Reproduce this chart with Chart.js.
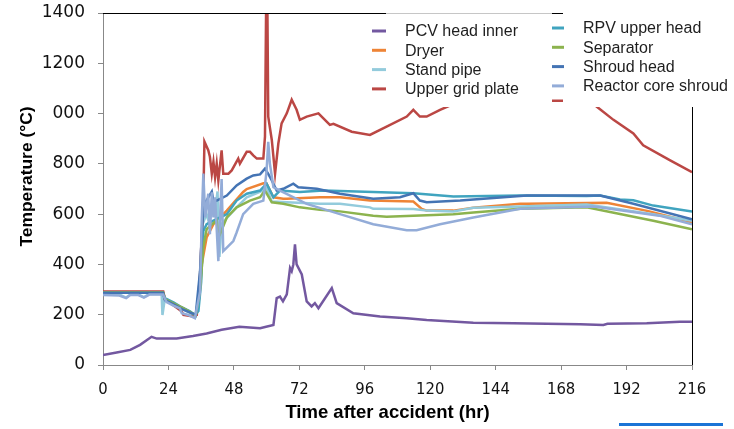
<!DOCTYPE html>
<html>
<head>
<meta charset="utf-8">
<script src="https://cdn.jsdelivr.net/npm/chart.js@4.4.1/dist/chart.umd.min.js"></script>
<style>
html,body{margin:0;padding:0;background:#fff;overflow:hidden}
#wrap{position:relative;width:734px;height:429px}
#bar{position:absolute;left:619px;top:423px;width:104px;height:3px;background:#1b74d6}
</style>
</head>
<body>
<div id="wrap"><canvas id="c" width="734" height="429"></canvas><div id="bar"></div></div>
<script>
// ---------- data ----------
const xTickValues = [0, 24, 48, 72, 96, 120, 144, 168, 192, 216];
const yTickLabels = ['0', '200', '400', '600', '800', '000', '1200', '1400'];
const xTitle = 'Time after accident (hr)';
const yTitle = 'Temperature (°C)';
const seriesNames = ['PCV head inner', 'Dryer', 'Stand pipe', 'Upper grid plate',
  'RPV upper head', 'Separator', 'Shroud head', 'Reactor core shroud'];
const seriesColors = ['#7358a0', '#ee8436', '#93cbdc', '#bb4744',
  '#40a4bf', '#8cb34e', '#4474b4', '#93acd8'];

const pcvT = [0, 5, 10, 13.6, 17.8, 19.7, 27, 33, 38, 43.5, 50, 57.6, 62.5, 63.7, 64.9, 66, 67.4, 68.6, 69.2, 69.8, 70.4, 71, 72.9, 74.7, 76.5, 77.7, 79, 83.9, 85.7, 91.8, 101.6, 111.4, 118.7, 135.8, 150.5, 175, 183.5, 185, 199.4, 211.6, 216];
const pcvV = [40, 50, 60, 80, 112, 105, 105, 115, 125, 140, 152, 146, 159, 266, 272, 253, 281, 386, 373, 400, 480, 400, 360, 253, 233, 246, 226, 306, 246, 206, 193, 186, 179, 168, 166, 162, 159, 164, 166, 172, 172];

const dryerT = [0, 22, 22.7, 26, 29, 32, 34, 35.2, 36.2, 38, 40.5, 45.4, 51.4, 52.7, 58.8, 60, 61.9, 62.5, 66.1, 67.4, 79.6, 86.9, 97.9, 113.8, 116.9, 118.7, 128.5, 135.8, 153, 155.4, 184.7, 200, 216];
const dryerV = [288, 288, 262, 244, 228, 210, 197, 260, 400, 507, 560, 614, 688, 700, 723, 721, 680, 667, 661, 661, 667, 667, 654, 650, 621, 614, 614, 625, 641, 641, 645, 612, 568];

const standT = [0, 6, 8.5, 10, 13, 15, 17, 21.5, 21.8, 22.6, 26, 29, 32, 34, 35.2, 36.5, 38, 39, 40, 41, 42, 42.7, 43.5, 45, 49, 52.7, 58.8, 60, 61.9, 67.4, 79.6, 86.9, 97.9, 99.1, 113.8, 118.7, 128.5, 135.8, 153, 177.4, 201.8, 216];
const standV = [282, 280, 268, 280, 280, 270, 282, 283, 199, 258, 240, 224, 206, 194, 280, 560, 600, 560, 640, 600, 690, 430, 560, 580, 627, 667, 694, 705, 650, 647, 641, 641, 627, 621, 620, 614, 611, 625, 630, 638, 600, 574];

const gridT = [0, 22.1, 22.7, 28.9, 29.5, 33.1, 34.4, 35.6, 36.8, 37.2, 38.6, 39.2, 39.9, 40.5, 41.1, 41.7, 42.3, 43.5, 44.1, 46, 47.2, 49.6, 50.2, 52.7, 53.9, 55.1, 56.4, 58.8, 59.4, 59.8, 60.3, 60.6, 61.9, 63.1, 64.3, 65.5, 67.4, 69.2, 71, 72.2, 74.7, 79, 83.2, 84.5, 91.2, 97.9, 104, 111.4, 113.8, 116.2, 118.7, 123.6, 130, 140, 150, 160, 170, 178, 181, 187.2, 194.5, 198.1, 208, 216];
const gridV = [292, 292, 262, 213, 199, 193, 199, 360, 667, 888, 854, 828, 761, 808, 747, 801, 734, 854, 761, 761, 774, 821, 801, 848, 848, 834, 821, 821, 908, 1400, 1400, 988, 895, 761, 881, 961, 1001, 1055, 1015, 975, 988, 1001, 955, 959, 928, 915, 948, 988, 1015, 988, 988, 1015, 1045, 1070, 1085, 1090, 1080, 1060, 1028, 975, 921, 874, 814, 767];

const rpvT = [0, 22, 22.7, 26, 28.2, 31.9, 33.7, 35, 36, 36.8, 38, 40.5, 45.4, 49, 52.7, 57.6, 60, 62.5, 64.9, 72.2, 80.8, 99.1, 113.8, 128.5, 153, 177.4, 182.3, 189.6, 194.5, 201.8, 216];
const rpvV = [288, 288, 266, 248, 233, 213, 199, 215, 330, 533, 560, 574, 600, 654, 681, 694, 721, 667, 694, 688, 694, 688, 683, 670, 674, 672, 674, 658, 655, 634, 610];

const sepT = [0, 22, 22.7, 26, 29, 32, 34, 35.6, 36.8, 38, 40, 41.7, 42.3, 42.9, 45.4, 49, 53.9, 57.6, 59.4, 61.9, 66.1, 72.2, 79.6, 86.9, 99.1, 104, 113.8, 128.5, 135.8, 153, 177.4, 201.8, 216];
const sepV = [289, 289, 262, 244, 228, 210, 197, 300, 470, 540, 560, 575, 507, 520, 587, 627, 654, 667, 694, 647, 641, 627, 617, 611, 594, 590, 594, 600, 607, 621, 627, 574, 540];

const shroudT = [0, 22, 22.7, 26, 29, 32, 34, 35.6, 36.8, 38, 39.9, 40.5, 41.7, 45.4, 49, 52.7, 55.1, 57.6, 59.4, 60.6, 61.9, 63.7, 66.1, 69.8, 71.6, 78.4, 86.9, 99.1, 108.9, 113.8, 116.2, 118.7, 131, 155.4, 182.3, 194.5, 216];
const shroudV = [287, 287, 258, 240, 222, 208, 200, 373, 640, 655, 690, 650, 654, 674, 714, 741, 754, 758, 781, 760, 734, 694, 701, 721, 707, 701, 681, 661, 667, 683, 654, 647, 654, 674, 674, 641, 580];

const coreT = [0, 6, 8.5, 10, 13, 15, 17, 22, 23.3, 26, 28.2, 28.9, 31, 33.7, 35.6, 36.2, 36.8, 37.5, 38.6, 39.2, 39.9, 40.5, 41.1, 42.3, 43.5, 44.1, 45.4, 47.8, 49, 51.4, 55.1, 58.8, 60, 60.6, 61.2, 62.5, 64.9, 74.7, 86.9, 99.1, 111.4, 115, 123.6, 135.8, 153, 180, 204, 216];
const coreV = [278, 276, 266, 278, 278, 268, 280, 280, 250, 235, 225, 206, 200, 186, 292, 574, 761, 587, 681, 520, 687, 587, 667, 413, 740, 453, 467, 493, 527, 600, 641, 654, 774, 888, 801, 707, 694, 641, 600, 560, 536, 536, 560, 587, 621, 630, 594, 560];

const seriesT = [pcvT, dryerT, standT, gridT, rpvT, sepT, shroudT, coreT];
const seriesV = [pcvV, dryerV, standV, gridV, rpvV, sepV, shroudV, coreV];

// ---------- chart ----------
const datasets = seriesNames.map((name, i) => ({
  label: name,
  data: seriesT[i].map((t, k) => ({x: t, y: seriesV[i][k]})),
  borderColor: seriesColors[i],
  backgroundColor: seriesColors[i],
  borderWidth: 2.5,
  pointRadius: 0,
  tension: 0,
  fill: false,
  order: seriesNames.length - i
}));

const overlay = {
  id: 'overlay',
  afterDraw(chart) {
    const ctx = chart.ctx, a = chart.chartArea;
    ctx.save();
    // plot frame (top/right)
    ctx.strokeStyle = '#000'; ctx.lineWidth = 1;
    ctx.beginPath();
    ctx.moveTo(a.left, a.top + 0.5); ctx.lineTo(a.right + 0.5, a.top + 0.5);
    ctx.lineTo(a.right + 0.5, a.bottom);
    ctx.stroke();
    // legend boxes
    ctx.fillStyle = '#fff';
    ctx.fillRect(358, a.top + 1, 205, 107 - (a.top + 1));
    ctx.fillRect(563, 0, 171, 107);
    ctx.fillRect(386, a.top - 1, 166, 3);
    ctx.strokeStyle = '#c6c6c6';
    ctx.beginPath(); ctx.moveTo(386, a.top + 0.5); ctx.lineTo(552, a.top + 0.5); ctx.stroke();
    // legend entries
    ctx.font = '16px "Liberation Sans", Arial, sans-serif';
    ctx.textBaseline = 'middle'; ctx.textAlign = 'left';
    const ds = chart.data.datasets;
    for (let i = 0; i < ds.length; i++) {
      const col = i < 4 ? 0 : 1, row = i % 4;
      const mx0 = col ? 552 : 372, mx1 = col ? 564 : 386;
      const tx = col ? 583 : 405;
      const y = (col ? 28 : 31) + row * 19.3;
      ctx.strokeStyle = ds[i].borderColor; ctx.lineWidth = 3;
      ctx.beginPath(); ctx.moveTo(mx0, y); ctx.lineTo(mx1, y); ctx.stroke();
      ctx.fillStyle = '#1e1e1e';
      ctx.fillText(ds[i].label, tx, y + 1);
    }
    // clipped marker of a further entry
    ctx.fillStyle = seriesColors[3];
    ctx.fillRect(552, 99.5, 11, 2.5);
    // axis titles
    ctx.fillStyle = '#000';
    ctx.textAlign = 'center'; ctx.textBaseline = 'middle';
    ctx.font = 'bold 18.5px "Liberation Sans", Arial, sans-serif';
    ctx.fillText(xTitle, 387.5, 413);
    ctx.save();
    ctx.translate(27, 176.5); ctx.rotate(-Math.PI / 2);
    ctx.font = 'bold 17.4px "Liberation Sans", Arial, sans-serif';
    ctx.fillText(yTitle, 0, 0);
    ctx.restore();
    ctx.restore();
  }
};

new Chart(document.getElementById('c'), {
  type: 'line',
  data: {datasets},
  options: {
    responsive: false,
    animation: false,
    devicePixelRatio: 1,
    layout: {padding: {top: 13, right: 42, left: 0, bottom: 0}},
    plugins: {legend: {display: false}, tooltip: {enabled: false}},
    scales: {
      x: {
        type: 'linear', min: 0, max: 216,
        afterFit: s => { s.height = 64; s.paddingTop = 0; s.paddingBottom = 0; },
        afterBuildTicks: s => { s.ticks = xTickValues.map(v => ({value: v})); },
        grid: {drawOnChartArea: false, drawTicks: true, tickLength: 5, color: '#888'},
        border: {color: '#888', width: 1},
        ticks: {
          autoSkip: false, maxRotation: 0, padding: 10, color: '#111',
          font: {family: '"DejaVu Sans Condensed", "DejaVu Sans", sans-serif', size: 16.5}
        }
      },
      y: {
        min: 0, max: 1400,
        afterFit: s => { s.width = 103; s.paddingTop = 0; s.paddingBottom = 0; },
        grid: {drawOnChartArea: false, drawTicks: true, tickLength: 5, color: '#888'},
        border: {color: '#888', width: 1},
        ticks: {
          stepSize: 200, padding: 13, color: '#111',
          font: {family: '"DejaVu Sans", sans-serif', size: 17},
          callback: v => yTickLabels[Math.round(v / 200)]
        }
      }
    }
  },
  plugins: [overlay]
});
</script>
</body>
</html>
